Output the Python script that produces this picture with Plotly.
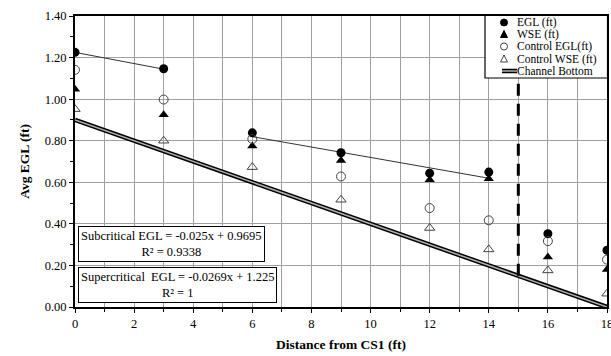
import plotly.graph_objects as go

distance = [0, 3, 6, 9, 12, 14, 16, 18]
egl = [1.225, 1.146, 0.838, 0.742, 0.644, 0.649, 0.353, 0.273]
wse = [1.048, 0.925, 0.774, 0.705, 0.612, 0.617, 0.240, 0.181]
control_egl = [1.141, 0.998, 0.808, 0.628, 0.476, 0.417, 0.317, 0.228]
control_wse = [0.952, 0.800, 0.673, 0.516, 0.380, 0.277, 0.176, 0.064]

channel_x = [0, 18]
channel_y = [0.90, 0.00]

sub_x = [6, 14]
sub_slope, sub_int = -0.025, 0.9695
sup_x = [0, 3]
sup_slope, sup_int = -0.0269, 1.225

hj_x = [15, 15]
hj_y = [0.15, 1.40]

legend_labels = ["EGL (ft)", "WSE (ft)", "Control EGL(ft)", "Control WSE (ft)", "Channel Bottom"]

FONT = "Times New Roman, Liberation Serif, serif"

fig = go.Figure()

# trendlines
fig.add_trace(go.Scatter(x=sub_x, y=[sub_slope * v + sub_int for v in sub_x], mode="lines",
                         line=dict(color="#333333", width=1), showlegend=False, hoverinfo="skip"))
fig.add_trace(go.Scatter(x=sup_x, y=[sup_slope * v + sup_int for v in sup_x], mode="lines",
                         line=dict(color="#333333", width=1), showlegend=False, hoverinfo="skip"))

# channel bottom (double line)
fig.add_trace(go.Scatter(x=channel_x, y=channel_y, mode="lines", name="Channel Bottom",
                         line=dict(color="black", width=4.5), showlegend=False))
fig.add_trace(go.Scatter(x=channel_x, y=channel_y, mode="lines", showlegend=False,
                         line=dict(color="#b0b0b0", width=1.5), hoverinfo="skip"))

# hydraulic jump dashed line
fig.add_trace(go.Scatter(x=hj_x, y=hj_y, mode="lines", showlegend=False,
                         line=dict(color="black", width=3, dash="12px,8px"), hoverinfo="skip"))

fig.add_trace(go.Scatter(x=distance, y=egl, mode="markers", name="EGL (ft)", showlegend=False,
                         marker=dict(symbol="circle", size=9, color="black")))
fig.add_trace(go.Scatter(x=distance, y=wse, mode="markers", name="WSE (ft)", showlegend=False,
                         marker=dict(symbol="triangle-up", size=9, color="black")))
fig.add_trace(go.Scatter(x=distance, y=control_egl, mode="markers", name="Control EGL(ft)", showlegend=False,
                         marker=dict(symbol="circle-open", size=9, color="#444444", line=dict(width=1))))
fig.add_trace(go.Scatter(x=distance, y=control_wse, mode="markers", name="Control WSE (ft)", showlegend=False,
                         marker=dict(symbol="triangle-up-open", size=9, color="#444444", line=dict(width=1))))

# ---- manual compact legend (layout only) ----
L, R, T, B = 75, 4, 16, 49
W, H = 611, 356
pw, ph = W - L - R, H - T - B

def px(xp):
    return (xp - L) / pw

def py(yp):
    return 1 - (yp - T) / ph

shapes = []
annotations = []
# legend box
shapes.append(dict(type="rect", xref="paper", yref="paper", x0=px(485), x1=px(607.5), y0=py(78), y1=py(15.5),
                   line=dict(color="black", width=1.2), fillcolor="white", layer="above"))
row_y = [22.5, 34.5, 46.5, 59, 71]
sx = 504
for i, lab in enumerate(legend_labels):
    annotations.append(dict(xref="paper", yref="paper", x=px(516), y=py(row_y[i]), xanchor="left", yanchor="middle",
                            text=lab, showarrow=False, borderpad=0,
                            font=dict(family=FONT, size=11.5, color="black")))
# symbols
ax, ay = px(sx), py(row_y[0])
shapes.append(dict(type="circle", xref="paper", yref="paper", xsizemode="pixel", ysizemode="pixel",
                   xanchor=ax, yanchor=ay, x0=-3.5, x1=3.5, y0=-3.5, y1=3.5,
                   fillcolor="black", line=dict(color="black", width=1), layer="above"))
ax, ay = px(sx), py(row_y[1])
shapes.append(dict(type="path", xref="paper", yref="paper", xsizemode="pixel", ysizemode="pixel",
                   xanchor=ax, yanchor=ay, path="M-3.5,-3 L3.5,-3 L0,4 Z",
                   fillcolor="black", line=dict(color="black", width=1), layer="above"))
ax, ay = px(sx), py(row_y[2])
shapes.append(dict(type="circle", xref="paper", yref="paper", xsizemode="pixel", ysizemode="pixel",
                   xanchor=ax, yanchor=ay, x0=-3.5, x1=3.5, y0=-3.5, y1=3.5,
                   fillcolor="white", line=dict(color="#444444", width=1), layer="above"))
ax, ay = px(sx), py(row_y[3])
shapes.append(dict(type="path", xref="paper", yref="paper", xsizemode="pixel", ysizemode="pixel",
                   xanchor=ax, yanchor=ay, path="M-3.5,-3 L3.5,-3 L0,4 Z",
                   fillcolor="white", line=dict(color="#444444", width=1), layer="above"))
ax, ay = px(sx), py(row_y[4])
shapes.append(dict(type="line", xref="paper", yref="paper", xsizemode="pixel", ysizemode="pixel",
                   xanchor=ax, yanchor=ay, x0=-2, x1=13, y0=0, y1=0,
                   line=dict(color="black", width=4.5), layer="above"))
shapes.append(dict(type="line", xref="paper", yref="paper", xsizemode="pixel", ysizemode="pixel",
                   xanchor=ax, yanchor=ay, x0=-2, x1=13, y0=0, y1=0,
                   line=dict(color="#b0b0b0", width=1.5), layer="above"))

annotations += [
    dict(xref="paper", yref="paper", x=px(78), y=py(226), xanchor="left", yanchor="top",
         text="Subcritical EGL = -0.025x + 0.9695<br>R² = 0.9338", showarrow=False,
         align="center", bordercolor="black", borderwidth=1, bgcolor="white", borderpad=2,
         font=dict(family=FONT, size=12.5)),
    dict(xref="paper", yref="paper", x=px(78), y=py(267), xanchor="left", yanchor="top",
         text="Supercritical  EGL = -0.0269x + 1.225<br>R² = 1", showarrow=False,
         align="center", bordercolor="black", borderwidth=1, bgcolor="white", borderpad=2,
         font=dict(family=FONT, size=12.5)),
]

fig.update_layout(
    width=W, height=H,
    margin=dict(l=L, r=R, t=T, b=B, autoexpand=False),
    paper_bgcolor="white", plot_bgcolor="white",
    font=dict(family=FONT, size=12, color="black"),
    showlegend=False,
    shapes=shapes,
    annotations=annotations,
    xaxis=dict(range=[0, 18], dtick=2, tick0=0, showgrid=True, gridcolor="#a0a0a0", gridwidth=1,
               minor=dict(dtick=1, showgrid=True, gridcolor="#a0a0a0", ticks="outside", ticklen=3, tickcolor="black"),
               showline=True, linecolor="black", linewidth=2, mirror=True,
               ticks="outside", ticklen=4, tickcolor="black", zeroline=False,
               ticklabeloverflow="allow", automargin=False,
               tickfont=dict(family=FONT, size=12.5),
               title=dict(text="<b>Distance from CS1 (ft)</b>", font=dict(family=FONT, size=13.5), standoff=10)),
    yaxis=dict(range=[0, 1.4], dtick=0.2, tick0=0, tickformat=".2f", showgrid=True, gridcolor="#a0a0a0", gridwidth=1,
               minor=dict(dtick=0.1, showgrid=False, ticks="outside", ticklen=3, tickcolor="black"),
               showline=True, linecolor="black", linewidth=2, mirror=True,
               ticks="outside", ticklen=4, tickcolor="black", zeroline=False, automargin=False,
               tickfont=dict(family=FONT, size=12.5),
               title=dict(text="<b>Avg EGL (ft)</b>", font=dict(family=FONT, size=13.5), standoff=12)),
)

fig.write_html("out.html", config={"displayModeBar": False},
               post_script="document.body.style.margin='0';document.body.style.padding='0';")
